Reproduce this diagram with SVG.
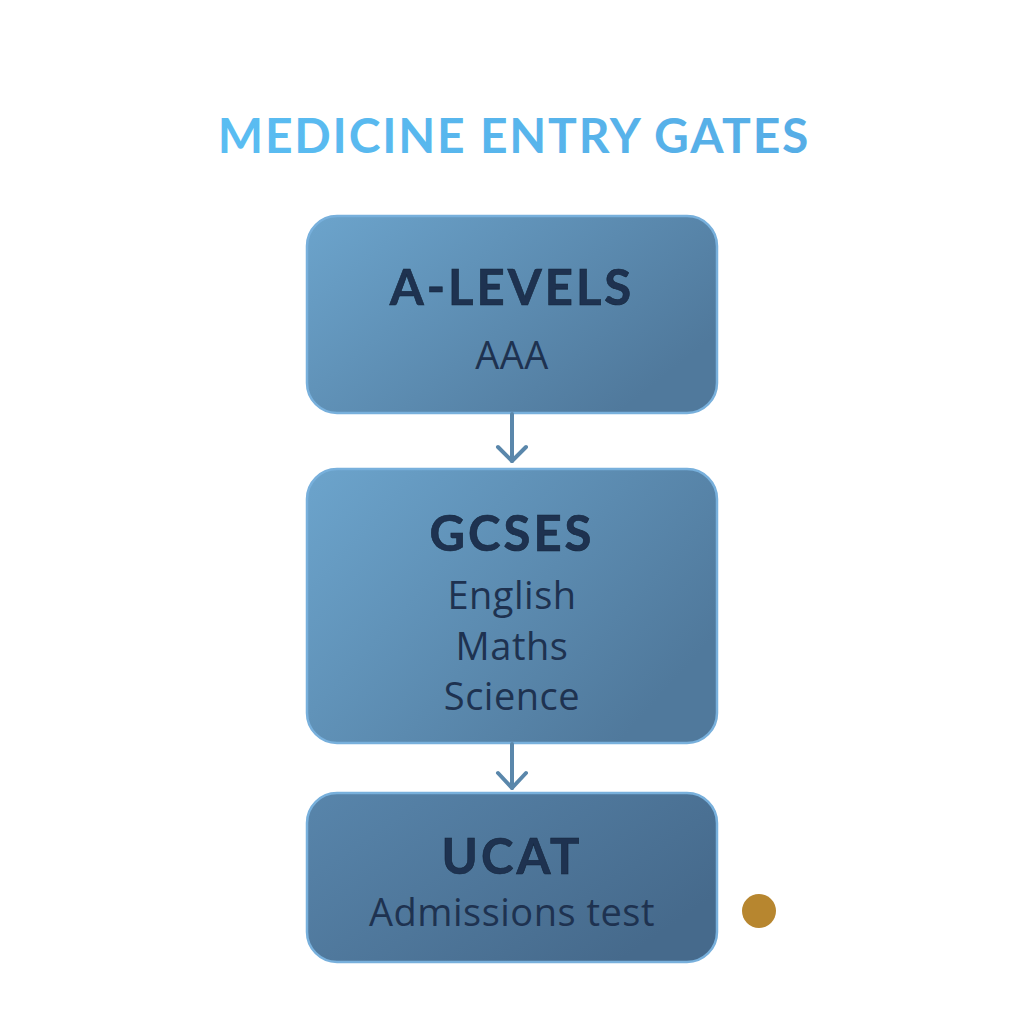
<svg xmlns="http://www.w3.org/2000/svg" width="1024" height="1024" viewBox="0 0 1024 1024">
<defs>
<linearGradient id="g1" x1="0" y1="0" x2="1" y2="0.6">
<stop offset="0" stop-color="#6CA4CC"/>
<stop offset="1" stop-color="#50799C"/>
</linearGradient>
<linearGradient id="g3" x1="0" y1="0" x2="1" y2="0.6">
<stop offset="0" stop-color="#5885AB"/>
<stop offset="1" stop-color="#466A8C"/>
</linearGradient>
<linearGradient id="tg" x1="0" y1="0" x2="1" y2="0">
<stop offset="0" stop-color="#5ABDF2"/>
<stop offset="1" stop-color="#56ADE6"/>
</linearGradient>
</defs>
<style>
.box{stroke:#78B0DC;stroke-width:2.5}
.h{font-family:Lato,"Open Sans",sans-serif;font-weight:700;fill:#1E3250;text-anchor:middle;stroke:#14243a;stroke-width:0.6;font-size:49px;letter-spacing:3px}
.s{font-family:"Open Sans",Lato,sans-serif;font-weight:400;fill:#1E3250;text-anchor:middle;font-size:38px;letter-spacing:0.5px}
.c{stroke:#5A87AB;stroke-width:4;fill:none;stroke-linecap:round;stroke-linejoin:round}
</style>
<rect width="1024" height="1024" fill="#FFFFFF"/>
<text x="514" y="153" font-family="Lato,'Open Sans',sans-serif" font-weight="700" font-size="48" fill="url(#tg)" text-anchor="middle" letter-spacing="1.8">MEDICINE ENTRY GATES</text>
<g id="node-alevels">
<rect class="box" x="307" y="216" width="410" height="197" rx="30" fill="url(#g1)"/>
<text class="h" x="512" y="305">A-LEVELS</text>
<text class="s" x="512" y="369" font-size="40" letter-spacing="5">AAA</text>
</g>
<g id="node-gcses">
<rect class="box" x="307" y="469" width="410" height="274" rx="30" fill="url(#g1)"/>
<text class="h" x="512" y="551">GCSES</text>
<text class="s" x="512" y="609">English</text>
<text class="s" x="512" y="660">Maths</text>
<text class="s" x="512" y="710">Science</text>
</g>
<g id="node-ucat">
<rect class="box" x="307" y="793" width="410" height="169" rx="30" fill="url(#g3)" stroke="#6A9CC8"/>
<text class="h" x="512" y="874">UCAT</text>
<text class="s" x="512" y="926">Admissions test</text>
</g>
<g id="connectors">
<path class="c" d="M512 414 V461"/>
<path class="c" d="M498 447 L512 461 L526 447"/>
<path class="c" d="M512 744 V788"/>
<path class="c" d="M498 773 L512 788 L526 773"/>
</g>
<circle cx="759" cy="911" r="17" fill="#B7862F"/>
</svg>
